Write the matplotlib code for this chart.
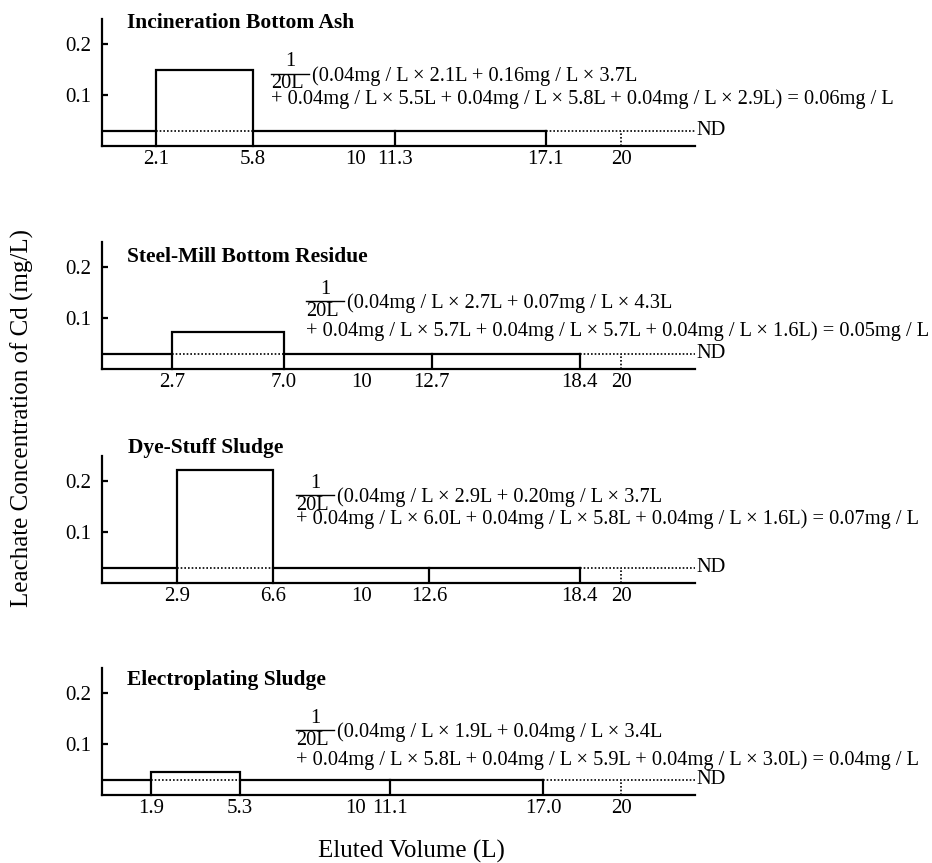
import matplotlib
matplotlib.use("Agg")
import matplotlib.pyplot as plt
import matplotlib.transforms as mtransforms
from matplotlib.lines import Line2D

plt.rcParams['font.family'] = ['Liberation Serif', 'DejaVu Serif']

W, H = 932, 863

# data
titles = ["Incineration Bottom Ash", "Steel-Mill Bottom Residue",
          "Dye-Stuff Sludge", "Electroplating Sludge"]
# eluted volume break points (L): bar start, bar end, 3rd and 4th sampling
breaks = [[2.1, 5.8, 11.3, 17.1],
          [2.7, 7.0, 12.7, 18.4],
          [2.9, 6.6, 12.6, 18.4],
          [1.9, 5.3, 11.1, 17.0]]
break_labels = [["2.1", "5.8", "11.3", "17.1"],
                ["2.7", "7.0", "12.7", "18.4"],
                ["2.9", "6.6", "12.6", "18.4"],
                ["1.9", "5.3", "11.1", "17.0"]]
peak_conc = [0.15, 0.073, 0.222, 0.046]
base_conc = [0.03, 0.03, 0.03, 0.03]
end_volume = 20
x_end = 22.85
eq_line1 = ["(0.04mg / L × 2.1L + 0.16mg / L × 3.7L",
            "(0.04mg / L × 2.7L + 0.07mg / L × 4.3L",
            "(0.04mg / L × 2.9L + 0.20mg / L × 3.7L",
            "(0.04mg / L × 1.9L + 0.04mg / L × 3.4L"]
eq_line2 = ["+ 0.04mg / L × 5.5L + 0.04mg / L × 5.8L + 0.04mg / L × 2.9L) = 0.06mg / L",
            "+ 0.04mg / L × 5.7L + 0.04mg / L × 5.7L + 0.04mg / L × 1.6L) = 0.05mg / L",
            "+ 0.04mg / L × 6.0L + 0.04mg / L × 5.8L + 0.04mg / L × 1.6L) = 0.07mg / L",
            "+ 0.04mg / L × 5.8L + 0.04mg / L × 5.9L + 0.04mg / L × 3.0L) = 0.04mg / L"]

# layout in pixels
baselines = [146, 369, 583, 795]
panel_h = 127
ax_left, ax_right = 102, 695
title_pos = [(127, 23), (127, 257), (128, 448), (127, 680)]
frac_pos = [(271, 74, 99), (306, 301, 331), (296, 495, 519), (296, 730, 760)]

FS = 14.7
TICK_FS = 15
lw = 1.6


def px(x, y):
    return x / W, 1 - y / H


fig = plt.figure(figsize=(W / 100, H / 100), dpi=100)

for i in range(4):
    b1, b2, b3, b4 = breaks[i]
    lev = base_conc[i]
    pk = peak_conc[i]
    x0, y0 = px(ax_left, baselines[i])
    ax = fig.add_axes([x0, y0, (ax_right - ax_left) / W, panel_h / H])
    ax.set_xlim(0, x_end)
    ax.set_ylim(0, 0.25)
    for s in ['top', 'right']:
        ax.spines[s].set_visible(False)
    for s in ['left', 'bottom']:
        ax.spines[s].set_linewidth(lw)

    # peak box
    ax.plot([b1, b1, b2, b2], [0, pk, pk, 0], color='black', lw=lw,
            solid_joinstyle='miter', clip_on=False)
    # ND level line
    ax.plot([0, b1], [lev, lev], color='black', lw=lw)
    ax.plot([b1, b2], [lev, lev], color='black', lw=1.2, ls=(0, (1, 1.2)))
    ax.plot([b2, b4], [lev, lev], color='black', lw=lw)
    ax.plot([b4, x_end], [lev, lev], color='black', lw=1.2, ls=(0, (1, 1.2)),
            clip_on=False)
    ax.plot([b3, b3], [0, lev], color='black', lw=lw)
    ax.plot([b4, b4], [0, lev], color='black', lw=lw)
    ax.plot([end_volume, end_volume], [0, lev], color='black', lw=1.2,
            ls=(0, (1, 1.2)))
    ax.text(x_end + 0.05, lev, "ND", fontsize=FS, va='center', ha='left')

    # ticks
    xt = [b1, b2, 10, b3, b4, end_volume]
    xl = [break_labels[i][0], break_labels[i][1], "10",
          break_labels[i][2], break_labels[i][3], "20"]
    ax.set_xticks(xt)
    ax.set_xticklabels(xl, fontsize=TICK_FS)
    ax.tick_params(axis='x', length=0, pad=3)
    # nudge "10" left when the next break point sits right beside it
    if b3 - 10 < 1.5:
        lab = ax.get_xticklabels()[2]
        shift = mtransforms.ScaledTranslation(-6 / 100, 0, fig.dpi_scale_trans)
        lab.set_transform(lab.get_transform() + shift)
    ax.set_xticks([10], minor=True)
    ax.tick_params(axis='x', which='minor', direction='in', length=4, width=lw)
    ax.set_yticks([0.1, 0.2])
    ax.set_yticklabels(["0.1", "0.2"], fontsize=TICK_FS)
    ax.tick_params(axis='y', direction='in', length=4, width=lw, pad=8)

    # title
    tx, ty = px(*title_pos[i])
    fig.text(tx, ty, titles[i], fontsize=15.5, fontweight='bold',
             ha='left', va='center')

    # averaging equation
    fx, fy, l2y = frac_pos[i]
    fig.text(*px(fx + 19, fy - 12), "1", fontsize=FS, ha='center', va='center')
    fig.text(*px(fx, fy + 10), "20L", fontsize=FS, ha='left', va='center')
    (lx0, ly), (lx1, _) = px(fx, fy), px(fx + 38, fy)
    fig.add_artist(Line2D([lx0, lx1], [ly, ly], color='black', lw=1.0))
    fig.text(*px(fx + 41, fy + 2), eq_line1[i], fontsize=FS, ha='left',
             va='center')
    fig.text(*px(fx, l2y), eq_line2[i], fontsize=FS, ha='left', va='center')

fig.text(*px(22, 418), "Leachate Concentration of Cd (mg/L)", fontsize=18,
         rotation=90, ha='center', va='center')
fig.text(*px(411, 851), "Eluted Volume (L)", fontsize=18, ha='center',
         va='center')

fig.savefig("out.png", dpi=100)
